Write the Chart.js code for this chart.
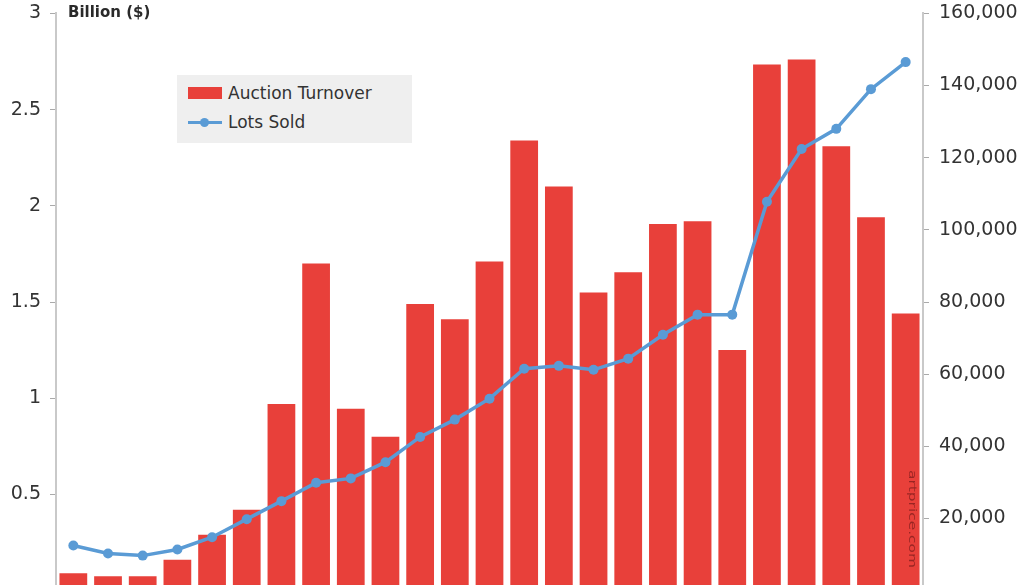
<!DOCTYPE html>
<html>
<head>
<meta charset="utf-8">
<script src="https://cdn.jsdelivr.net/npm/chart.js@4.4.1/dist/chart.umd.min.js"></script>
<style>
  html, body { margin: 0; padding: 0; background: #fff; overflow: hidden; }
  #wrap { position: relative; width: 1024px; height: 585px; overflow: hidden; }
  #chart { position: absolute; left: 0; top: -8px; }
  #axis-title {
    position: absolute; left: 68px; top: 3px;
    font: bold 15px "DejaVu Sans", sans-serif; color: #2a2a2a;
  }
  #legend {
    position: absolute; left: 177px; top: 75px; width: 235px; height: 68px;
    background: #efefef; font: 17px "DejaVu Sans", sans-serif; color: #333;
  }
  .item { position: absolute; left: 11px; height: 20px; line-height: 20px; white-space: nowrap; }
  .item span { position: absolute; left: 40px; top: 0; }
  .swatch-bar { position: absolute; left: 0; top: 4px; width: 34px; height: 12px; background: rgb(232, 64, 58); }
  .swatch-line { position: absolute; left: 0; top: 9px; width: 34px; height: 3px; background: #5a9bd5; }
  .swatch-dot { position: absolute; left: 12px; top: 6px; width: 9px; height: 9px; border-radius: 50%; background: #5a9bd5; }
</style>
</head>
<body>
<div id="wrap">
  <canvas id="chart" width="1024" height="620"></canvas>
  <div id="axis-title">Billion ($)</div>
  <div id="legend">
    <div class="item" style="top: 8px;"><div class="swatch-bar"></div><span>Auction Turnover</span></div>
    <div class="item" style="top: 37px;"><div class="swatch-line"></div><div class="swatch-dot"></div><span>Lots Sold</span></div>
  </div>
</div>
<script>
const years = [
  "1991", "1992", "1993", "1994", "1995", "1996", "1997", "1998", "1999", "2000",
  "2001", "2002", "2003", "2004", "2005", "2006", "2007", "2008", "2009", "2010",
  "2011", "2012", "2013", "2014", "2015"
];
// auction turnover, billion $
const turnover = [
  0.09, 0.075, 0.075, 0.16, 0.29, 0.42, 0.97, 1.70, 0.945, 0.80,
  1.49, 1.41, 1.71, 2.34, 2.10, 1.55, 1.655, 1.905, 1.92, 1.25,
  2.735, 2.76, 2.31, 1.94, 1.44
];
// number of lots sold
const lotsSold = [
  12500, 10300, 9700, 11400, 14800, 19800, 24800, 29900, 31100, 35600,
  42600, 47400, 53200, 61500, 62300, 61200, 64300, 70900, 76500, 76500,
  107800, 122400, 128000, 139000, 146500
];
const leftTicks = [0, 0.5, 1, 1.5, 2, 2.5, 3];
const rightTicks = [0, 20000, 40000, 60000, 80000, 100000, 120000, 140000, 160000];

const barColor = "rgb(232, 64, 58)";
const lineColor = "#5a9bd5";
const axisColor = "#c9c9c9";
const tickFont = { family: "DejaVu Sans", size: 19 };

const watermark = {
  id: "watermark",
  afterDatasetsDraw(chart) {
    const { ctx, chartArea } = chart;
    ctx.save();
    ctx.translate(chartArea.right - 11, 478);
    ctx.rotate(Math.PI / 2);
    ctx.scale(1.4, 1);
    ctx.font = "11px 'DejaVu Sans'";
    ctx.fillStyle = "rgba(120, 25, 25, 0.7)";
    ctx.textBaseline = "middle";
    ctx.fillText("artprice.com", 0, 0);
    ctx.restore();
  }
};

new Chart(document.getElementById("chart"), {
  type: "bar",
  data: {
    labels: years,
    datasets: [
      {
        type: "line",
        label: "Lots Sold",
        data: lotsSold,
        yAxisID: "y1",
        borderColor: lineColor,
        backgroundColor: lineColor,
        borderWidth: 3.5,
        pointRadius: 5,
        pointBorderWidth: 0,
        tension: 0,
        order: 0,
      },
      {
        label: "Auction Turnover",
        data: turnover,
        yAxisID: "y",
        backgroundColor: barColor,
        barPercentage: 0.8,
        categoryPercentage: 1,
        order: 1,
      },
    ],
  },
  options: {
    responsive: false,
    animation: false,
    devicePixelRatio: 1,
    layout: { padding: { top: 2, left: 0, right: 0, bottom: 0 } },
    plugins: { legend: { display: false }, tooltip: { enabled: false } },
    scales: {
      x: { display: false },
      y: {
        position: "left",
        min: 0,
        max: 3,
        afterBuildTicks: (scale) => { scale.ticks = leftTicks.map((v) => ({ value: v })); },
        afterFit: (scale) => { scale.width = 56; },
        grid: { drawOnChartArea: false, tickLength: 6, tickColor: "#aaa" },
        border: { color: axisColor, width: 2 },
        ticks: {
          padding: 9,
          color: "#333",
          font: tickFont,
          callback: (v) => (v === 0 ? "" : String(v)),
        },
      },
      y1: {
        position: "right",
        min: 0,
        max: 160000,
        afterBuildTicks: (scale) => { scale.ticks = rightTicks.map((v) => ({ value: v })); },
        afterFit: (scale) => { scale.width = 101; },
        grid: { drawOnChartArea: false, tickLength: 6, tickColor: "#aaa" },
        border: { color: axisColor, width: 2 },
        ticks: {
          padding: 10,
          color: "#333",
          font: tickFont,
          callback: (v) => (v === 0 ? "" : v.toLocaleString("en-US")),
        },
      },
    },
  },
  plugins: [watermark],
});
</script>
</body>
</html>
